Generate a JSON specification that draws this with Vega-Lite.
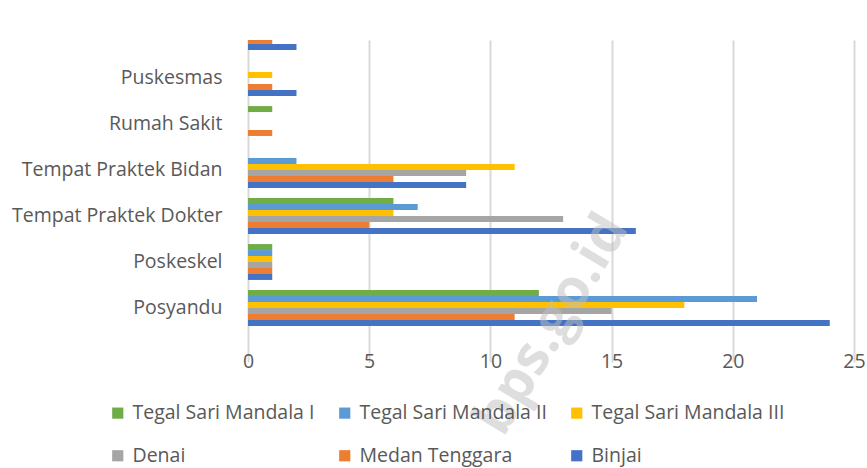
{
  "$schema": "https://vega.github.io/schema/vega-lite/v6.json",
  "width": 606,
  "height": 291,
  "autosize": {"type": "none"},
  "padding": {"left": 248, "top": 40, "right": 13, "bottom": 137},
  "config": {"view": {"stroke": null}, "font": "Open Sans"},
  "data": {
    "values": [
      {"fasilitas": "Pustu", "wilayah": "Tegal Sari Mandala I", "jumlah": 0},
      {"fasilitas": "Pustu", "wilayah": "Tegal Sari Mandala II", "jumlah": 0},
      {"fasilitas": "Pustu", "wilayah": "Tegal Sari Mandala III", "jumlah": 0},
      {"fasilitas": "Pustu", "wilayah": "Denai", "jumlah": 0},
      {"fasilitas": "Pustu", "wilayah": "Medan Tenggara", "jumlah": 1},
      {"fasilitas": "Pustu", "wilayah": "Binjai", "jumlah": 2},
      {"fasilitas": "Puskesmas", "wilayah": "Tegal Sari Mandala I", "jumlah": 0},
      {"fasilitas": "Puskesmas", "wilayah": "Tegal Sari Mandala II", "jumlah": 0},
      {"fasilitas": "Puskesmas", "wilayah": "Tegal Sari Mandala III", "jumlah": 1},
      {"fasilitas": "Puskesmas", "wilayah": "Denai", "jumlah": 0},
      {"fasilitas": "Puskesmas", "wilayah": "Medan Tenggara", "jumlah": 1},
      {"fasilitas": "Puskesmas", "wilayah": "Binjai", "jumlah": 2},
      {"fasilitas": "Rumah Sakit", "wilayah": "Tegal Sari Mandala I", "jumlah": 1},
      {"fasilitas": "Rumah Sakit", "wilayah": "Tegal Sari Mandala II", "jumlah": 0},
      {"fasilitas": "Rumah Sakit", "wilayah": "Tegal Sari Mandala III", "jumlah": 0},
      {"fasilitas": "Rumah Sakit", "wilayah": "Denai", "jumlah": 0},
      {"fasilitas": "Rumah Sakit", "wilayah": "Medan Tenggara", "jumlah": 1},
      {"fasilitas": "Rumah Sakit", "wilayah": "Binjai", "jumlah": 0},
      {"fasilitas": "Tempat Praktek Bidan", "wilayah": "Tegal Sari Mandala I", "jumlah": 0},
      {"fasilitas": "Tempat Praktek Bidan", "wilayah": "Tegal Sari Mandala II", "jumlah": 2},
      {"fasilitas": "Tempat Praktek Bidan", "wilayah": "Tegal Sari Mandala III", "jumlah": 11},
      {"fasilitas": "Tempat Praktek Bidan", "wilayah": "Denai", "jumlah": 9},
      {"fasilitas": "Tempat Praktek Bidan", "wilayah": "Medan Tenggara", "jumlah": 6},
      {"fasilitas": "Tempat Praktek Bidan", "wilayah": "Binjai", "jumlah": 9},
      {"fasilitas": "Tempat Praktek Dokter", "wilayah": "Tegal Sari Mandala I", "jumlah": 6},
      {"fasilitas": "Tempat Praktek Dokter", "wilayah": "Tegal Sari Mandala II", "jumlah": 7},
      {"fasilitas": "Tempat Praktek Dokter", "wilayah": "Tegal Sari Mandala III", "jumlah": 6},
      {"fasilitas": "Tempat Praktek Dokter", "wilayah": "Denai", "jumlah": 13},
      {"fasilitas": "Tempat Praktek Dokter", "wilayah": "Medan Tenggara", "jumlah": 5},
      {"fasilitas": "Tempat Praktek Dokter", "wilayah": "Binjai", "jumlah": 16},
      {"fasilitas": "Poskeskel", "wilayah": "Tegal Sari Mandala I", "jumlah": 1},
      {"fasilitas": "Poskeskel", "wilayah": "Tegal Sari Mandala II", "jumlah": 1},
      {"fasilitas": "Poskeskel", "wilayah": "Tegal Sari Mandala III", "jumlah": 1},
      {"fasilitas": "Poskeskel", "wilayah": "Denai", "jumlah": 1},
      {"fasilitas": "Poskeskel", "wilayah": "Medan Tenggara", "jumlah": 1},
      {"fasilitas": "Poskeskel", "wilayah": "Binjai", "jumlah": 1},
      {"fasilitas": "Posyandu", "wilayah": "Tegal Sari Mandala I", "jumlah": 12},
      {"fasilitas": "Posyandu", "wilayah": "Tegal Sari Mandala II", "jumlah": 21},
      {"fasilitas": "Posyandu", "wilayah": "Tegal Sari Mandala III", "jumlah": 18},
      {"fasilitas": "Posyandu", "wilayah": "Denai", "jumlah": 15},
      {"fasilitas": "Posyandu", "wilayah": "Medan Tenggara", "jumlah": 11},
      {"fasilitas": "Posyandu", "wilayah": "Binjai", "jumlah": 24}
    ]
  },
  "layer": [
    {
      "mark": {"type": "bar", "clip": true},
      "encoding": {
        "y": {
          "field": "fasilitas",
          "type": "nominal",
          "sort": ["Pustu", "Puskesmas", "Rumah Sakit", "Tempat Praktek Bidan", "Tempat Praktek Dokter", "Poskeskel", "Posyandu"],
          "scale": {"range": [-31, 291], "paddingInner": 0.22, "paddingOuter": 0.11},
          "axis": {
            "title": null,
            "domain": false,
            "ticks": false,
            "labelPadding": 26,
            "labelFontSize": 19.5,
            "labelColor": "#595959",
            "labelLimit": 0,
            "labelOpacity": {"condition": {"test": "datum.value == 'Pustu'", "value": 0}, "value": 1}
          }
        },
        "yOffset": {
          "field": "wilayah",
          "type": "nominal",
          "sort": ["Tegal Sari Mandala I", "Tegal Sari Mandala II", "Tegal Sari Mandala III", "Denai", "Medan Tenggara", "Binjai"],
          "scale": {"paddingInner": 0, "paddingOuter": 0}
        },
        "x": {
          "field": "jumlah",
          "type": "quantitative",
          "scale": {"domain": [0, 25], "nice": false},
          "axis": {
            "title": null,
            "values": [0, 5, 10, 15, 20, 25],
            "domain": false,
            "ticks": false,
            "labelFlush": false,
            "labelPadding": 21,
            "labelFontSize": 19.5,
            "labelColor": "#595959",
            "gridColor": "#D9D9D9",
            "gridWidth": 2
          }
        },
        "color": {
          "field": "wilayah",
          "type": "nominal",
          "scale": {
            "domain": ["Tegal Sari Mandala I", "Tegal Sari Mandala II", "Tegal Sari Mandala III", "Denai", "Medan Tenggara", "Binjai"],
            "range": ["#70AD47", "#5B9BD5", "#FFC000", "#A5A5A5", "#ED7D31", "#4472C4"]
          },
          "legend": {
            "title": null,
            "orient": "none",
            "legendX": -140,
            "legendY": 363,
            "direction": "horizontal",
            "columns": 3,
            "columnPadding": 20,
            "rowPadding": 22,
            "symbolType": "square",
            "symbolSize": 125,
            "symbolStrokeWidth": 0,
            "labelFontSize": 19.5,
            "labelColor": "#595959",
            "labelLimit": 0,
            "labelOffset": 5
          }
        }
      }
    },
    {
      "data": {"values": [{"tanda": "bps.go.id"}]},
      "mark": {"type": "text", "angle": 301, "fontSize": 55, "fontWeight": "bold", "color": "#BFBFBF", "opacity": 0.5, "dy": 32},
      "encoding": {
        "text": {"field": "tanda"},
        "x": {"datum": 11.4},
        "y": {"datum": "Posyandu"}
      }
    }
  ]
}
